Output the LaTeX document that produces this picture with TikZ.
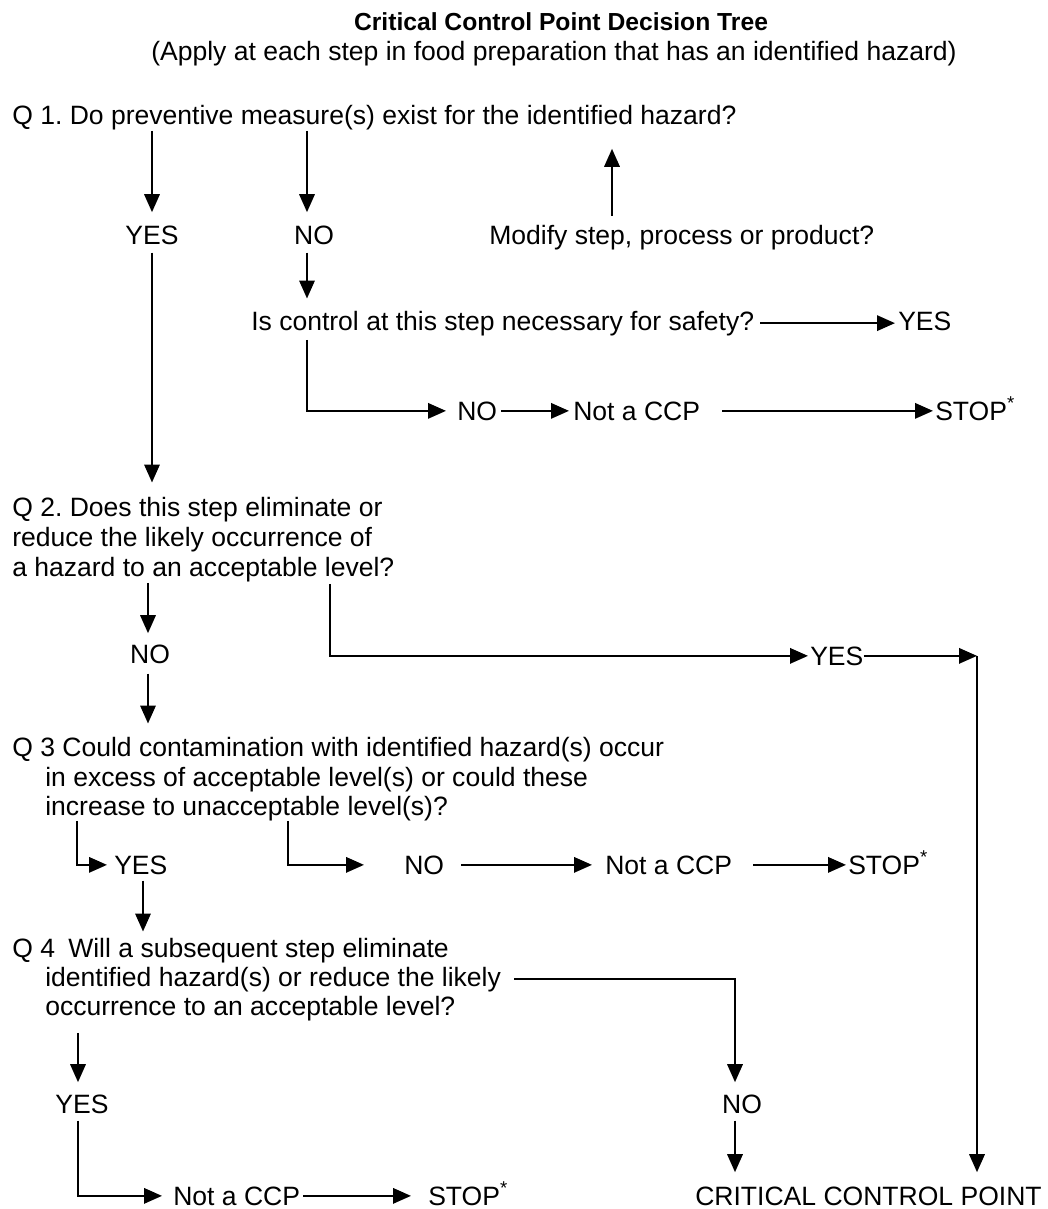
\documentclass[tikz,border=0pt]{standalone}
\usepackage{fontspec}
\setmainfont{Liberation Sans}
\usetikzlibrary{arrows.meta,calc}
\newcommand\bodyfont{\fontsize{19.9pt}{24pt}\selectfont}
\newcommand\headfont{\fontsize{18.5pt}{22pt}\selectfont\bfseries}
\newcommand\stoptxt{STOP\textsuperscript{*}}
\frenchspacing
\begin{document}
\begin{tikzpicture}[x=0.75pt,y=-0.75pt,
  tx/.style={inner sep=0pt,anchor=base west,font=\bodyfont,text=black},
  ct/.style={inner sep=0pt,anchor=base,font=\bodyfont,text=black},
  hd/.style={inner sep=0pt,anchor=base,font=\headfont,text=black},
  arr/.style={line width=1.7pt,-{Triangle[length=13.5pt,width=11.5pt]}}]
\useasboundingbox[fill=white] (0,0) rectangle (1048,1209);

% column coordinates
\coordinate (xA) at (152,0);
\coordinate (xB) at (307,0);
\coordinate (xM) at (612,0);
\coordinate (xC) at (148,0);
\coordinate (xD) at (330,0);
\coordinate (xE) at (977,0);
\coordinate (xF) at (77,0);
\coordinate (xG) at (288,0);
\coordinate (xH) at (143,0);
\coordinate (xI) at (735,0);
\coordinate (xJ) at (78,0);

% texts
\node[hd] (title) at (561,31) {Critical Control Point Decision Tree};
\node[ct] (sub) at (554,61) {(Apply at each step in food preparation that has an identified hazard)};
\node[tx] (q1) at (12,125) {Q 1. Do preventive measure(s) exist for the identified hazard?};
\node[ct] (yes1) at (152,244) {YES};
\node[ct] (no1) at (314,244) {NO};
\node[tx] (mod) at (489,244) {Modify step, process or product?};
\node[tx] (ctrl) at (251,330) {Is control at this step necessary for safety?};
\node[tx] (yes2) at (898,330) {YES};
\node[tx] (no2) at (457,420) {NO};
\node[tx] (ncc1) at (573,420) {Not a CCP};
\node[tx] (stop1) at (935,420) {\stoptxt};
\node[tx] (q2a) at (12,516) {Q 2. Does this step eliminate or};
\node[tx] (q2b) at (12,546) {reduce the likely occurrence of};
\node[tx] (q2c) at (12,576) {a hazard to an acceptable level?};
\node[ct] (no3) at (150,663) {NO};
\node[tx] (yes3) at (810,665) {YES};
\node[tx] (q3a) at (12,756) {Q 3 Could contamination with identified hazard(s) occur};
\node[tx] (q3b) at (45,786) {in excess of acceptable level(s) or could these};
\node[tx] (q3c) at (45,815) {increase to unacceptable level(s)?};
\node[tx] (yes4) at (114,874) {YES};
\node[tx] (no4) at (404,874) {NO};
\node[tx] (ncc3) at (605,874) {Not a CCP};
\node[tx] (stop3) at (848,874) {\stoptxt};
\node[tx] (q4a) at (12,957) {Q 4\hspace{0.5em}Will a subsequent step eliminate};
\node[tx] (q4b) at (45,986) {identified hazard(s) or reduce the likely};
\node[tx] (q4c) at (45,1015) {occurrence to an acceptable level?};
\node[ct] (yes5) at (82,1113) {YES};
\node[ct] (no5) at (742,1113) {NO};
\node[tx] (ncc4) at (173,1205) {Not a CCP};
\node[tx] (stop4) at (428,1205) {\stoptxt};
\node[tx] (ccp) at (695,1205) {CRITICAL CONTROL POINT};

% connectors
\draw[arr] (q1.south -| xA) -- ($(yes1.north -| xA)+(0,-13)$);
\draw[arr] (q1.south -| xB) -- ($(no1.north -| xB)+(0,-13)$);
\draw[arr] ($(mod.north -| xM)+(0,-9)$) -- ($(q1.south -| xM)+(0,18)$);
\draw[arr] ($(no1.south -| xB)+(0,8)$) -- ($(ctrl.north -| xB)+(0,-12)$);
\draw[arr] ($(ctrl.east)+(6,0)$) -- ($(ctrl.east -| yes2.west)+(-3,0)$);
\draw[arr] ($(ctrl.south -| xB)+(0,4)$) |- ($(no2.west)+(-11,0)$);
\draw[arr] ($(no2.east)+(4,0)$) -- ($(ncc1.west)+(-4,0)$);
\draw[arr] ($(ncc1.east)+(22,0)$) -- ($(ncc1.east -| stop1.west)+(-2,0)$);

\draw[arr] ($(yes1.south -| xA)+(0,8)$) -- ($(q2a.north -| xA)+(0,-14)$);
\draw[arr] ($(q2c.south -| xC)+(0,1)$) -- ($(no3.north -| xC)+(0,-11)$);
\draw[arr] ($(no3.south -| xC)+(0,10)$) -- ($(q3a.north -| xC)+(0,-13)$);
\draw[arr] ($(q2c.south -| xD)+(0,2)$) |- ($(yes3.west)+(-2,0)$);
\draw[arr] (yes3.east) -- (yes3.east -| xE);
\draw[arr] (yes3.east -| xE) -- ($(ccp.north -| xE)+(0,-14)$);

\draw[arr] (q3c.south -| xF) |- ($(yes4.west)+(-7,0)$);
\draw[arr] (q3c.south -| xG) |- ($(no4.west)+(-40,0)$);
\draw[arr] ($(no4.east)+(17,0)$) -- ($(ncc3.west)+(-13,0)$);
\draw[arr] ($(ncc3.east)+(21,0)$) -- ($(ncc3.east -| stop3.west)+(-2,0)$);
\draw[arr] ($(yes4.south -| xH)+(0,6)$) -- ($(q4a.north -| xH)+(0,-6)$);

\draw[arr] ($(q4b.east)+(13,0)$) -| ($(no5.north -| xI)+(0,-12)$);
\draw[arr] ($(no5.south -| xI)+(0,7)$) -- ($(ccp.north -| xI)+(0,-14)$);
\draw[arr] ($(q4c.south -| xJ)+(0,12)$) -- ($(yes5.north -| xJ)+(0,-12)$);
\draw[arr] ($(yes5.south -| xJ)+(0,7)$) |- ($(ncc4.west)+(-11,0)$);
\draw[arr] ($(ncc4.east)+(3,0)$) -- ($(ncc4.east -| stop4.west)+(-17,0)$);
\end{tikzpicture}
\end{document}
